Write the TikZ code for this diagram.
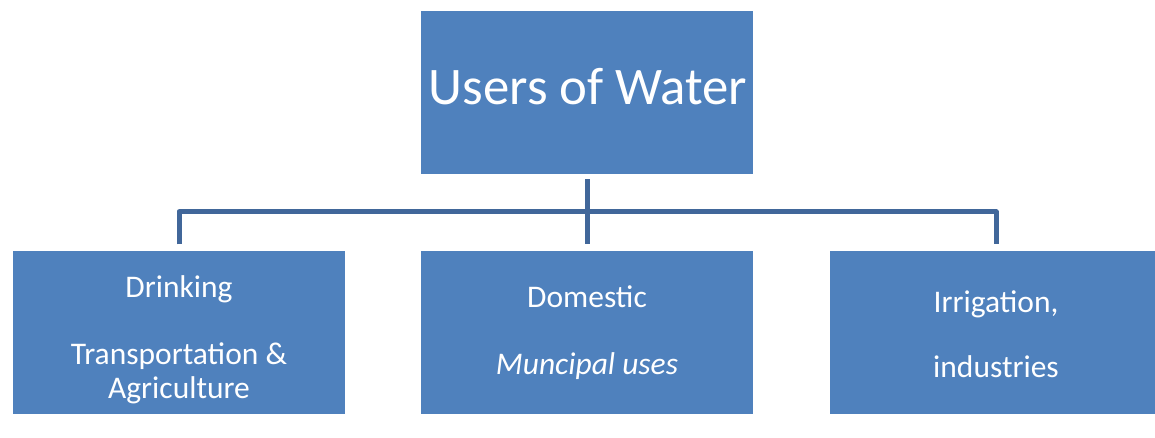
\documentclass[tikz,border=0pt]{standalone}
\usepackage{fontspec}
\setmainfont{Carlito}
\definecolor{boxblue}{HTML}{4F81BD}
\definecolor{linkblue}{HTML}{41679A}
\begin{document}
\begin{tikzpicture}[x=1pt,y=-1pt,
  ubox/.style={fill=boxblue,draw=none,minimum width=332pt,minimum height=163pt,inner sep=0pt},
  lbl/.style={text=white,anchor=base,inner sep=0pt,font=\fontsize{31.5}{38}\selectfont},
  link/.style={draw=linkblue,line width=5pt}]
\useasboundingbox (0,0) rectangle (1155,438);
\clip (0,0) rectangle (1155,438);
\node[ubox] (top) at (587,92.5) {};
\node[ubox] (left) at (179,332) {};
\node[ubox] (mid) at (587,332) {};
\node[ubox] (right) at (996,332) {};
\node[lbl,font=\fontsize{52.8}{60}\selectfont] (t0) at (588,105) {Users of Water};
\node[lbl] (l1) at (179,297) {Drinking};
\node[lbl] (l2) at (179,364) {Transportation \&};
\node[lbl] (l3) at (179,398) {Agriculture};
\node[lbl] (m1) at (587,307) {Domestic};
\node[lbl] (m2) at (587,374) {\itshape Muncipal uses};
\node[lbl] (r1) at (996,312) {Irrigation,};
\node[lbl] (r2) at (996,377) {industries};
\draw[link] ([yshift=-5pt]top.south) -- ([yshift=6pt]mid.north);
\draw[link,line join=round] ([yshift=6pt]left.north) -- ++(0,-32.5) -| ([yshift=6pt]right.north);
\end{tikzpicture}
\end{document}
